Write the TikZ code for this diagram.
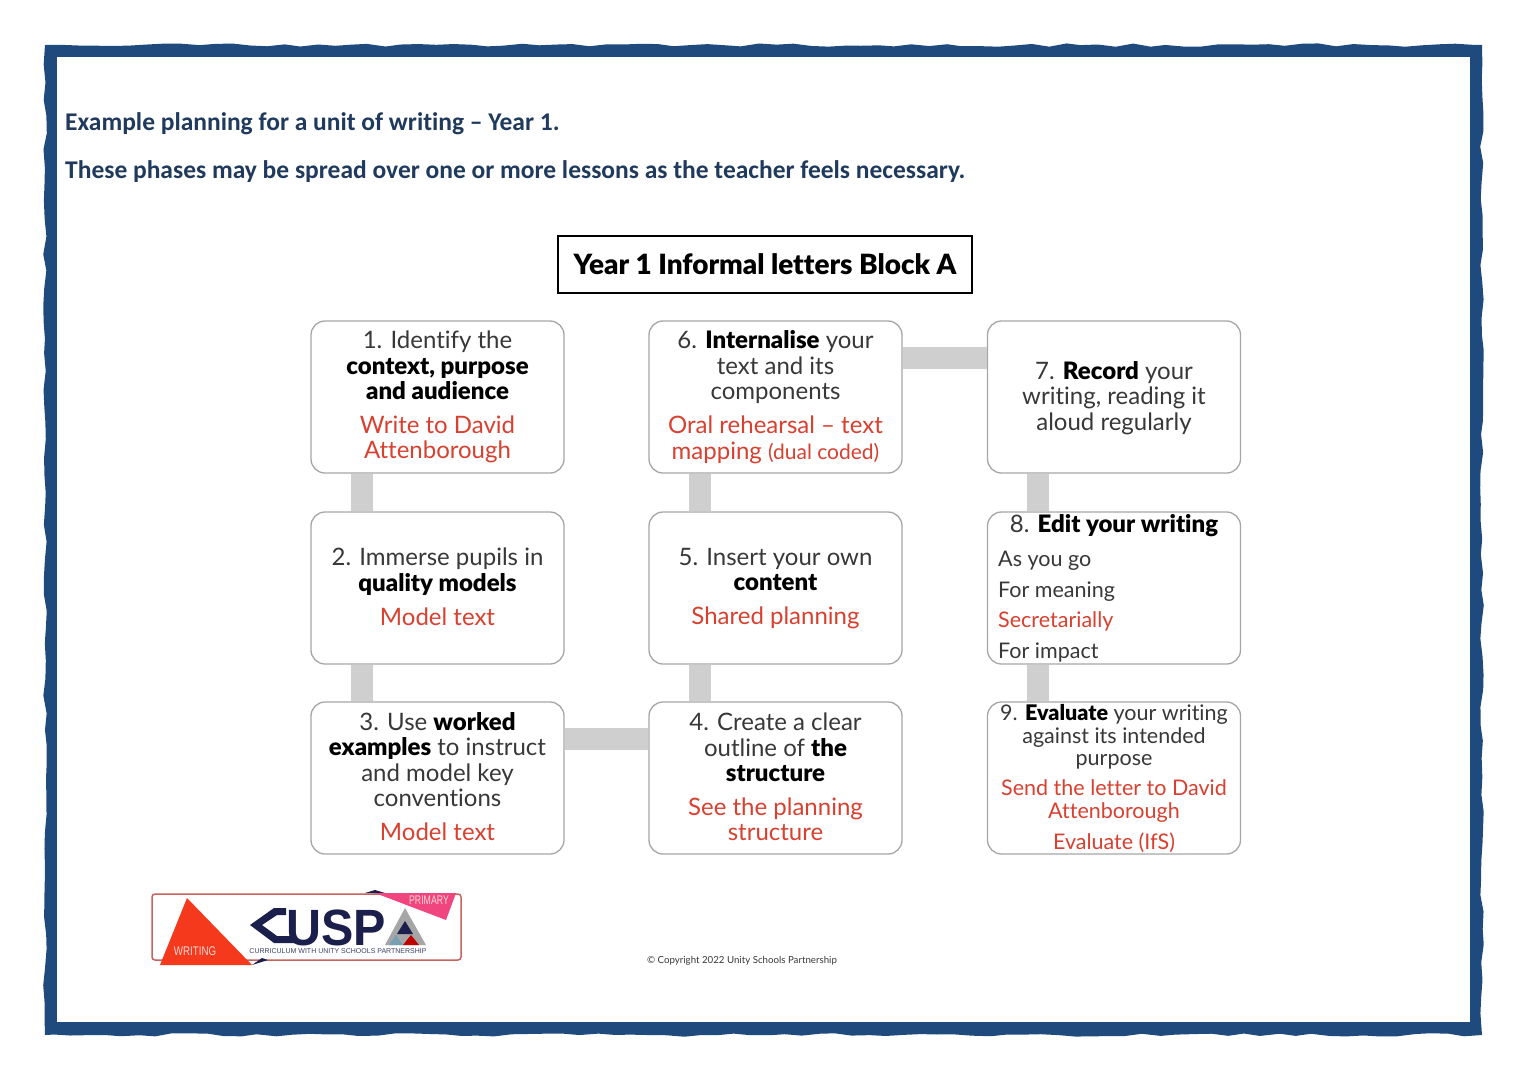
\documentclass[tikz,border=0pt]{standalone}
\usepackage{fontspec}
\setmainfont{Lato}[Ligatures=NoCommon,BoldFont={Lato Black}]
\newfontfamily\headfont{Carlito}[Ligatures=NoCommon]
\newfontfamily\logofont{Liberation Sans}
\usetikzlibrary{calc,decorations.pathmorphing}
\definecolor{frameblue}{HTML}{1F4A7E}
\definecolor{headblue}{HTML}{1F3A5C}
\definecolor{inkgrey}{HTML}{383838}
\definecolor{redtxt}{HTML}{D8402F}
\definecolor{edgegrey}{HTML}{A6A6A6}
\definecolor{linkgrey}{HTML}{CFCFCF}
\definecolor{navylogo}{HTML}{1B1F4B}
\definecolor{logored}{HTML}{F5391C}
\definecolor{logopink}{HTML}{F0457E}
\definecolor{logoedge}{HTML}{C9635F}
\newcommand{\rd}[1]{\textcolor{redtxt}{#1}}
\newcommand{\bk}[1]{\textcolor{black}{\textbf{#1}}}
\tikzset{
  x=1pt,y=-1pt,
  stagebox/.style={draw=edgegrey,line width=1.3pt,rounded corners=14pt,fill=white,minimum width=253pt,minimum height=152pt,inner sep=0pt},
  stagetext/.style={align=center,inner sep=0pt,text=inkgrey,font=\fontsize{24}{25.6}\selectfont},
  smalltext/.style={align=center,inner sep=0pt,text=inkgrey,font=\fontsize{21.5}{22.5}\selectfont},
  listtext/.style={align=left,inner sep=0pt,text=inkgrey,font=\fontsize{21.5}{30.6}\selectfont},
  link/.style={draw=linkgrey,line width=22pt},
  headline/.style={anchor=west,inner sep=0pt,text=headblue,font=\headfont\bfseries\fontsize{25.5}{25.5}\selectfont},
}
\begin{document}
\begin{tikzpicture}
\useasboundingbox (0,0) rectangle (1527,1080);
\fill[white] (0,0) rectangle (1527,1080);
% torn frame
\pgfmathsetseed{11}
\fill[frameblue,decorate,decoration={random steps,segment length=17pt,amplitude=1.8pt}] (45,45) -- (1482,45) -- (1482,1035) -- (45,1035) -- cycle;
\fill[white] (57,57) rectangle (1470,1022);
% headings
\node[headline] (h1) at (65,124) {Example planning for a unit of writing – Year 1.};
\node[headline] (h2) at (65,172) {These phases may be spread over one or more lessons as the teacher feels necessary.};
% title
\node[draw=black,line width=1.5pt,minimum width=414pt,minimum height=57pt,inner sep=0pt,font=\bfseries\fontsize{27.9}{28}\selectfont] (title) at (765,264.5) {Year 1 Informal letters Block A};
% boxes
\node[stagebox] (b1) at (437.5,397) {};
\node[stagebox] (b2) at (437.5,588) {};
\node[stagebox] (b3) at (437.5,778) {};
\node[stagebox] (b4) at (775.5,778) {};
\node[stagebox] (b5) at (775.5,588) {};
\node[stagebox] (b6) at (775.5,397) {};
\node[stagebox] (b7) at (1114,397) {};
\node[stagebox] (b8) at (1114,588) {};
\node[stagebox] (b9) at (1114,778) {};
% connectors
\draw[link] ($(b1.south west)+(51.5,0)$) -- ($(b2.north west)+(51.5,0)$);
\draw[link] ($(b2.south west)+(51.5,0)$) -- ($(b3.north west)+(51.5,0)$);
\draw[link] (b3.east |- 0,739) -- (b4.west |- 0,739);
\draw[link] ($(b4.north west)+(51.5,0)$) -- ($(b5.south west)+(51.5,0)$);
\draw[link] ($(b5.north west)+(51.5,0)$) -- ($(b6.south west)+(51.5,0)$);
\draw[link] (b6.east |- 0,358) -- (b7.west |- 0,358);
\draw[link] ($(b7.south west)+(51.5,0)$) -- ($(b8.north west)+(51.5,0)$);
\draw[link] ($(b8.south west)+(51.5,0)$) -- ($(b9.north west)+(51.5,0)$);
% texts
\node[stagetext] (t1) at (437.5,397) {1. Identify the\\ \bk{context, purpose}\\ \bk{and audience}\\[8pt] \rd{Write to David}\\ \rd{Attenborough}};
\node[stagetext] (t2) at (437.5,586.5) {2. Immerse pupils in\\ \bk{quality models}\\[8.5pt] \rd{Model text}};
\node[stagetext] (t3) at (437.5,776.5) {3. Use \bk{worked}\\ \bk{examples} to instruct\\ and model key\\ conventions\\[8pt] \rd{Model text}};
\node[stagetext] (t4) at (775.5,777) {4. Create a clear\\ outline of \bk{the}\\ \bk{structure}\\[8pt] \rd{See the planning}\\ \rd{structure}};
\node[stagetext] (t5) at (775.5,588.5) {5. Insert your own\\ \bk{content}\\[8pt] \rd{Shared planning}};
\node[stagetext] (t6) at (775.5,397) {6. \bk{Internalise} your\\ text and its\\ components\\[8pt] \rd{Oral rehearsal – text}\\ \rd{mapping {\fontsize{21}{25.6}\selectfont(dual coded)}}};
\node[stagetext] (t7) at (1114,398) {7. \bk{Record} your\\ writing, reading it\\ aloud regularly};
\node[stagetext] (t8) at (1114,526) {8. \bk{Edit your writing}};
\node[listtext,anchor=north west] (t8b) at (998,551) {As you go\\ For meaning\\ \rd{Secretarially}\\ For impact};
\node[smalltext] (t9) at (1114,737) {9. \bk{Evaluate} your writing\\ against its intended\\ purpose};
\node[smalltext] (t9b) at (1114,801) {\rd{Send the letter to David}\\ \rd{Attenborough}};
\node[smalltext] (t9c) at (1114,843) {\rd{Evaluate (IfS)}};
% logo
\draw[draw=logoedge,line width=1.5pt,rounded corners=3pt,fill=white] (152,894) rectangle (461,960);
\fill[navylogo] (252,965) -- (268,960) -- (262,958) -- cycle;
\fill[navylogo] (365,893) -- (375,890) -- (385,893) -- cycle;
\fill[logored] (187,898) -- (252,965) -- (160,965) -- cycle;
\fill[logopink] (375,893) -- (456,893) -- (446,920) -- cycle;
\node[inner sep=0pt,text=red!15!white,font=\logofont\fontsize{12.5}{13}\selectfont] (lw) at (195,951) {\scalebox{.78}[1]{WRITING}};
\node[inner sep=0pt,text=red!15!white,font=\logofont\fontsize{12.5}{13}\selectfont] (lp) at (429,900) {\scalebox{.7}[1]{PRIMARY}};
\fill[navylogo] (250,925) -- (274,908) -- (286,908) -- (286,915) -- (277,915) -- (262,925) -- (277,936) -- (292,936) -- (300,943) -- (274,943) -- cycle;
\node[inner sep=0pt,anchor=base west,text=navylogo,font=\logofont\bfseries\fontsize{51}{51}\selectfont] (lc) at (286,945) {\scalebox{.95}[1]{USP}};
\fill[gray!70] (405,908) -- (426,945) -- (385,945) -- cycle;
\fill[navylogo] (405,921) -- (413,934) -- (397,934) -- cycle;
\fill[red!75!black] (411,935) -- (419,945) -- (403,945) -- cycle;
\fill[cyan!35!gray] (396,935) -- (403,945) -- (389,945) -- cycle;
\node[inner sep=0pt,text=navylogo!85,font=\logofont\fontsize{7}{8}\selectfont] (lt) at (338,951.5) {CURRICULUM WITH UNITY SCHOOLS PARTNERSHIP};
% copyright
\node[inner sep=0pt,text=inkgrey,font=\fontsize{9.7}{10}\selectfont] (copy) at (742,960.5) {© Copyright 2022 Unity Schools Partnership};
\end{tikzpicture}
\end{document}
